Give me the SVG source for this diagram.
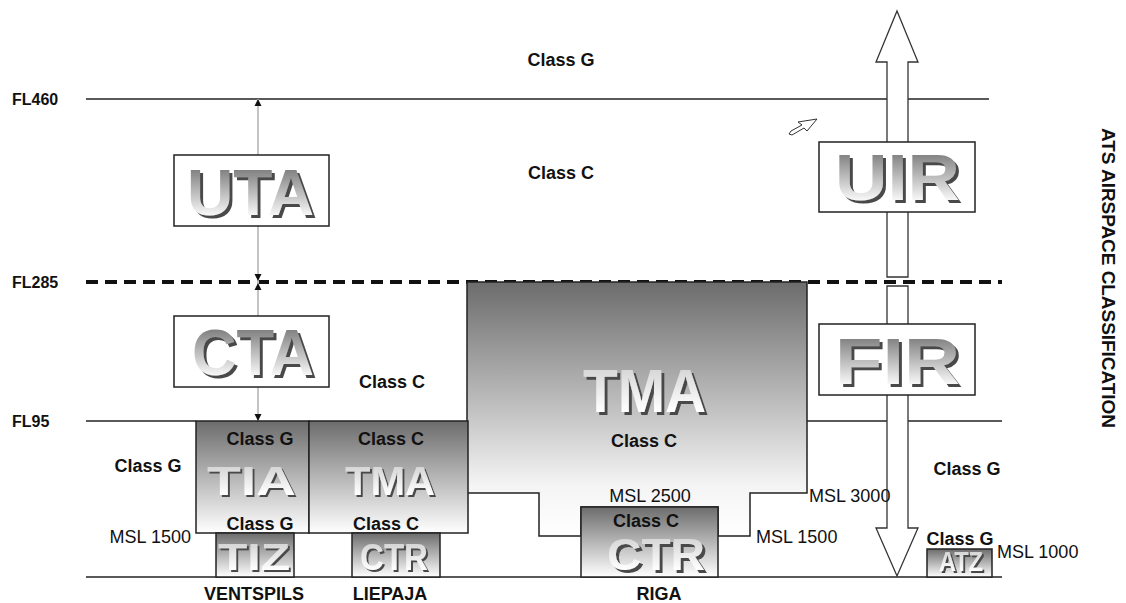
<svg xmlns="http://www.w3.org/2000/svg" width="1126" height="603" viewBox="0 0 1126 603">
<defs>
  <linearGradient id="boxGrad" x1="0" y1="0" x2="0" y2="1">
    <stop offset="0" stop-color="#6c6c6c"/>
    <stop offset="1" stop-color="#ffffff"/>
  </linearGradient>
  <linearGradient id="tmaGrad" x1="0" y1="0" x2="0" y2="1">
    <stop offset="0" stop-color="#6c6c6c"/>
    <stop offset="0.8" stop-color="#f4f4f4"/>
    <stop offset="1" stop-color="#ffffff"/>
  </linearGradient>
  <linearGradient id="letterGrad" x1="0" y1="0" x2="0" y2="1">
    <stop offset="0.15" stop-color="#7c7c7c"/>
    <stop offset="0.8" stop-color="#f6f6f6"/>
  </linearGradient>
  <linearGradient id="letterLight" x1="0" y1="0" x2="0" y2="1">
    <stop offset="0.15" stop-color="#d4d4d4"/>
    <stop offset="0.8" stop-color="#ffffff"/>
  </linearGradient>
  <filter id="shadowL" x="-10%" y="-10%" width="130%" height="130%">
    <feOffset in="SourceAlpha" dx="3" dy="3" result="off"/>
    <feFlood flood-color="#4a4a4a"/>
    <feComposite in2="off" operator="in" result="sh"/>
    <feMerge><feMergeNode in="sh"/><feMergeNode in="SourceGraphic"/></feMerge>
  </filter>
  <filter id="shadowS" x="-10%" y="-10%" width="130%" height="130%">
    <feOffset in="SourceAlpha" dx="2" dy="2" result="off"/>
    <feFlood flood-color="#4a4a4a"/>
    <feComposite in2="off" operator="in" result="sh"/>
    <feMerge><feMergeNode in="sh"/><feMergeNode in="SourceGraphic"/></feMerge>
  </filter>
  <style>
    .ln { stroke:#222; stroke-width:1.5; fill:none; }
    .box { fill:#fff; stroke:#222; stroke-width:1.5; }
    .gbox { fill:url(#boxGrad); stroke:#222; stroke-width:1.5; }
    .lbl { font-family:"Liberation Sans", Arial, sans-serif; font-weight:bold; font-size:18px; fill:#111; }
    .msl { font-family:"Liberation Sans", Arial, sans-serif; font-size:18px; fill:#111; }
    .fl { font-family:"Liberation Sans", Arial, sans-serif; font-weight:bold; font-size:16px; fill:#111; }
    .big { font-family:"Liberation Sans", Arial, sans-serif; font-weight:bold; }
    .gl { fill:url(#letterGrad); filter:url(#shadowL); }
    .wl { fill:url(#letterLight); filter:url(#shadowL); }
    .ws { fill:url(#letterLight); filter:url(#shadowS); }
    .ah { fill:#111; }
  </style>
</defs>
<rect width="1126" height="603" fill="#fff"/>

<g id="connectors">
  <line class="ln" x1="86" y1="99" x2="989" y2="99"/>
  <line x1="86" y1="282" x2="1002" y2="282" stroke="#111" stroke-width="4" stroke-dasharray="12 7"/>
  <line class="ln" x1="86" y1="421" x2="196" y2="421"/>
  <line class="ln" x1="807" y1="421" x2="1002" y2="421"/>
  <line class="ln" x1="86" y1="577" x2="1002" y2="577"/>
  <line x1="258" y1="99" x2="258" y2="421" stroke="#c4c4c4" stroke-width="2"/>
  <polygon class="ah" points="258,99 254.5,106 261.5,106"/>
  <polygon class="ah" points="258,281 254.5,274 261.5,274"/>
  <polygon class="ah" points="258,283 254.5,290 261.5,290"/>
  <polygon class="ah" points="258,421 254.5,414 261.5,414"/>
</g>

<g id="tma-riga">
  <polygon points="467,282 807,282 807,493 750,493 750,536 718,536 718,507 581,507 581,536 539,536 539,493 467,493" fill="url(#tmaGrad)" stroke="#222" stroke-width="1.5"/>
  <text class="big wl" x="583" y="412" font-size="62" textLength="123" lengthAdjust="spacingAndGlyphs">TMA</text>
  <text class="lbl" x="644" y="447" text-anchor="middle">Class C</text>
</g>

<g id="ctr-riga">
  <rect class="gbox" x="581" y="507" width="137" height="70"/>
  <text class="big wl" x="607" y="570" font-size="45" textLength="98" lengthAdjust="spacingAndGlyphs">CTR</text>
  <text class="lbl" x="646" y="527" text-anchor="middle">Class C</text>
</g>

<g id="tia">
  <rect class="gbox" x="196" y="421" width="113" height="112"/>
  <text class="big ws" x="207" y="495" font-size="40" textLength="89" lengthAdjust="spacingAndGlyphs">TIA</text>
  <text class="lbl" x="260" y="445" text-anchor="middle">Class G</text>
  <text class="lbl" x="260" y="530" text-anchor="middle">Class G</text>
</g>

<g id="tma-liepaja">
  <rect class="gbox" x="309" y="421" width="159" height="112"/>
  <text class="big ws" x="345" y="495" font-size="40" textLength="90" lengthAdjust="spacingAndGlyphs">TMA</text>
  <text class="lbl" x="391" y="445" text-anchor="middle">Class C</text>
  <text class="lbl" x="386" y="530" text-anchor="middle">Class C</text>
</g>

<g id="tiz">
  <rect class="gbox" x="216" y="533" width="78" height="44"/>
  <text class="big ws" x="218" y="570" font-size="37" textLength="72" lengthAdjust="spacingAndGlyphs">TIZ</text>
</g>

<g id="ctr-liepaja">
  <rect class="gbox" x="352" y="533" width="88" height="44"/>
  <text class="big ws" x="360" y="570" font-size="37" textLength="68" lengthAdjust="spacingAndGlyphs">CTR</text>
</g>

<g id="atz">
  <rect class="gbox" x="927" y="549" width="65" height="28"/>
  <text class="big ws" x="939" y="571" font-size="27" textLength="44" lengthAdjust="spacingAndGlyphs">ATZ</text>
</g>

<g id="fir-uir-arrow">
  <polygon points="897,11 918,62 908,62 908,277 887,277 887,62 876,62" fill="#fff" stroke="#333" stroke-width="1.3"/>
  <polygon points="887,286 908,286 908,528 918,528 897,576 876,528 887,528" fill="#fff" stroke="#333" stroke-width="1.3"/>
</g>

<g id="uta">
  <rect class="box" x="174" y="155" width="155" height="71"/>
  <text class="big gl" x="187" y="215" font-size="64" textLength="127" lengthAdjust="spacingAndGlyphs">UTA</text>
</g>

<g id="cta">
  <rect class="box" x="174" y="316" width="155" height="71"/>
  <text class="big gl" x="192" y="375" font-size="64" textLength="122" lengthAdjust="spacingAndGlyphs">CTA</text>
</g>

<g id="uir">
  <rect class="box" x="819" y="142" width="156" height="70"/>
  <text class="big gl" x="835" y="200" font-size="65" textLength="125" lengthAdjust="spacingAndGlyphs">UIR</text>
</g>

<g id="fir">
  <rect class="box" x="819" y="324" width="156" height="71"/>
  <text class="big gl" x="835" y="384" font-size="65" textLength="125" lengthAdjust="spacingAndGlyphs">FIR</text>
</g>

<g id="cursor">
  <path d="M817,119 L798,122 L802,125 L791,131 L789,134 L792,135 L804,128 L807,131 Z" fill="#fff" stroke="#333" stroke-width="1"/>
</g>

<g id="labels">
  <text class="fl" x="12" y="105">FL460</text>
  <text class="fl" x="12" y="288">FL285</text>
  <text class="fl" x="12" y="427">FL95</text>
  <text class="lbl" x="561" y="66" text-anchor="middle">Class G</text>
  <text class="lbl" x="561" y="179" text-anchor="middle">Class C</text>
  <text class="lbl" x="392" y="388" text-anchor="middle">Class C</text>
  <text class="lbl" x="148" y="472" text-anchor="middle">Class G</text>
  <text class="lbl" x="967" y="475" text-anchor="middle">Class G</text>
  <text class="lbl" x="960" y="545" text-anchor="middle">Class G</text>
  <text class="msl" x="650" y="502" text-anchor="middle">MSL 2500</text>
  <text class="msl" x="809" y="502">MSL 3000</text>
  <text class="msl" x="756" y="543">MSL 1500</text>
  <text class="msl" x="191" y="543" text-anchor="end">MSL 1500</text>
  <text class="msl" x="997" y="558">MSL 1000</text>
  <text class="lbl" x="254" y="600" text-anchor="middle">VENTSPILS</text>
  <text class="lbl" x="390" y="600" text-anchor="middle">LIEPAJA</text>
  <text class="lbl" x="659" y="600" text-anchor="middle">RIGA</text>
  <text class="lbl" transform="translate(1102,278) rotate(90)" text-anchor="middle" font-size="18.5" textLength="300" lengthAdjust="spacingAndGlyphs">ATS AIRSPACE CLASSIFICATION</text>
</g>
</svg>
